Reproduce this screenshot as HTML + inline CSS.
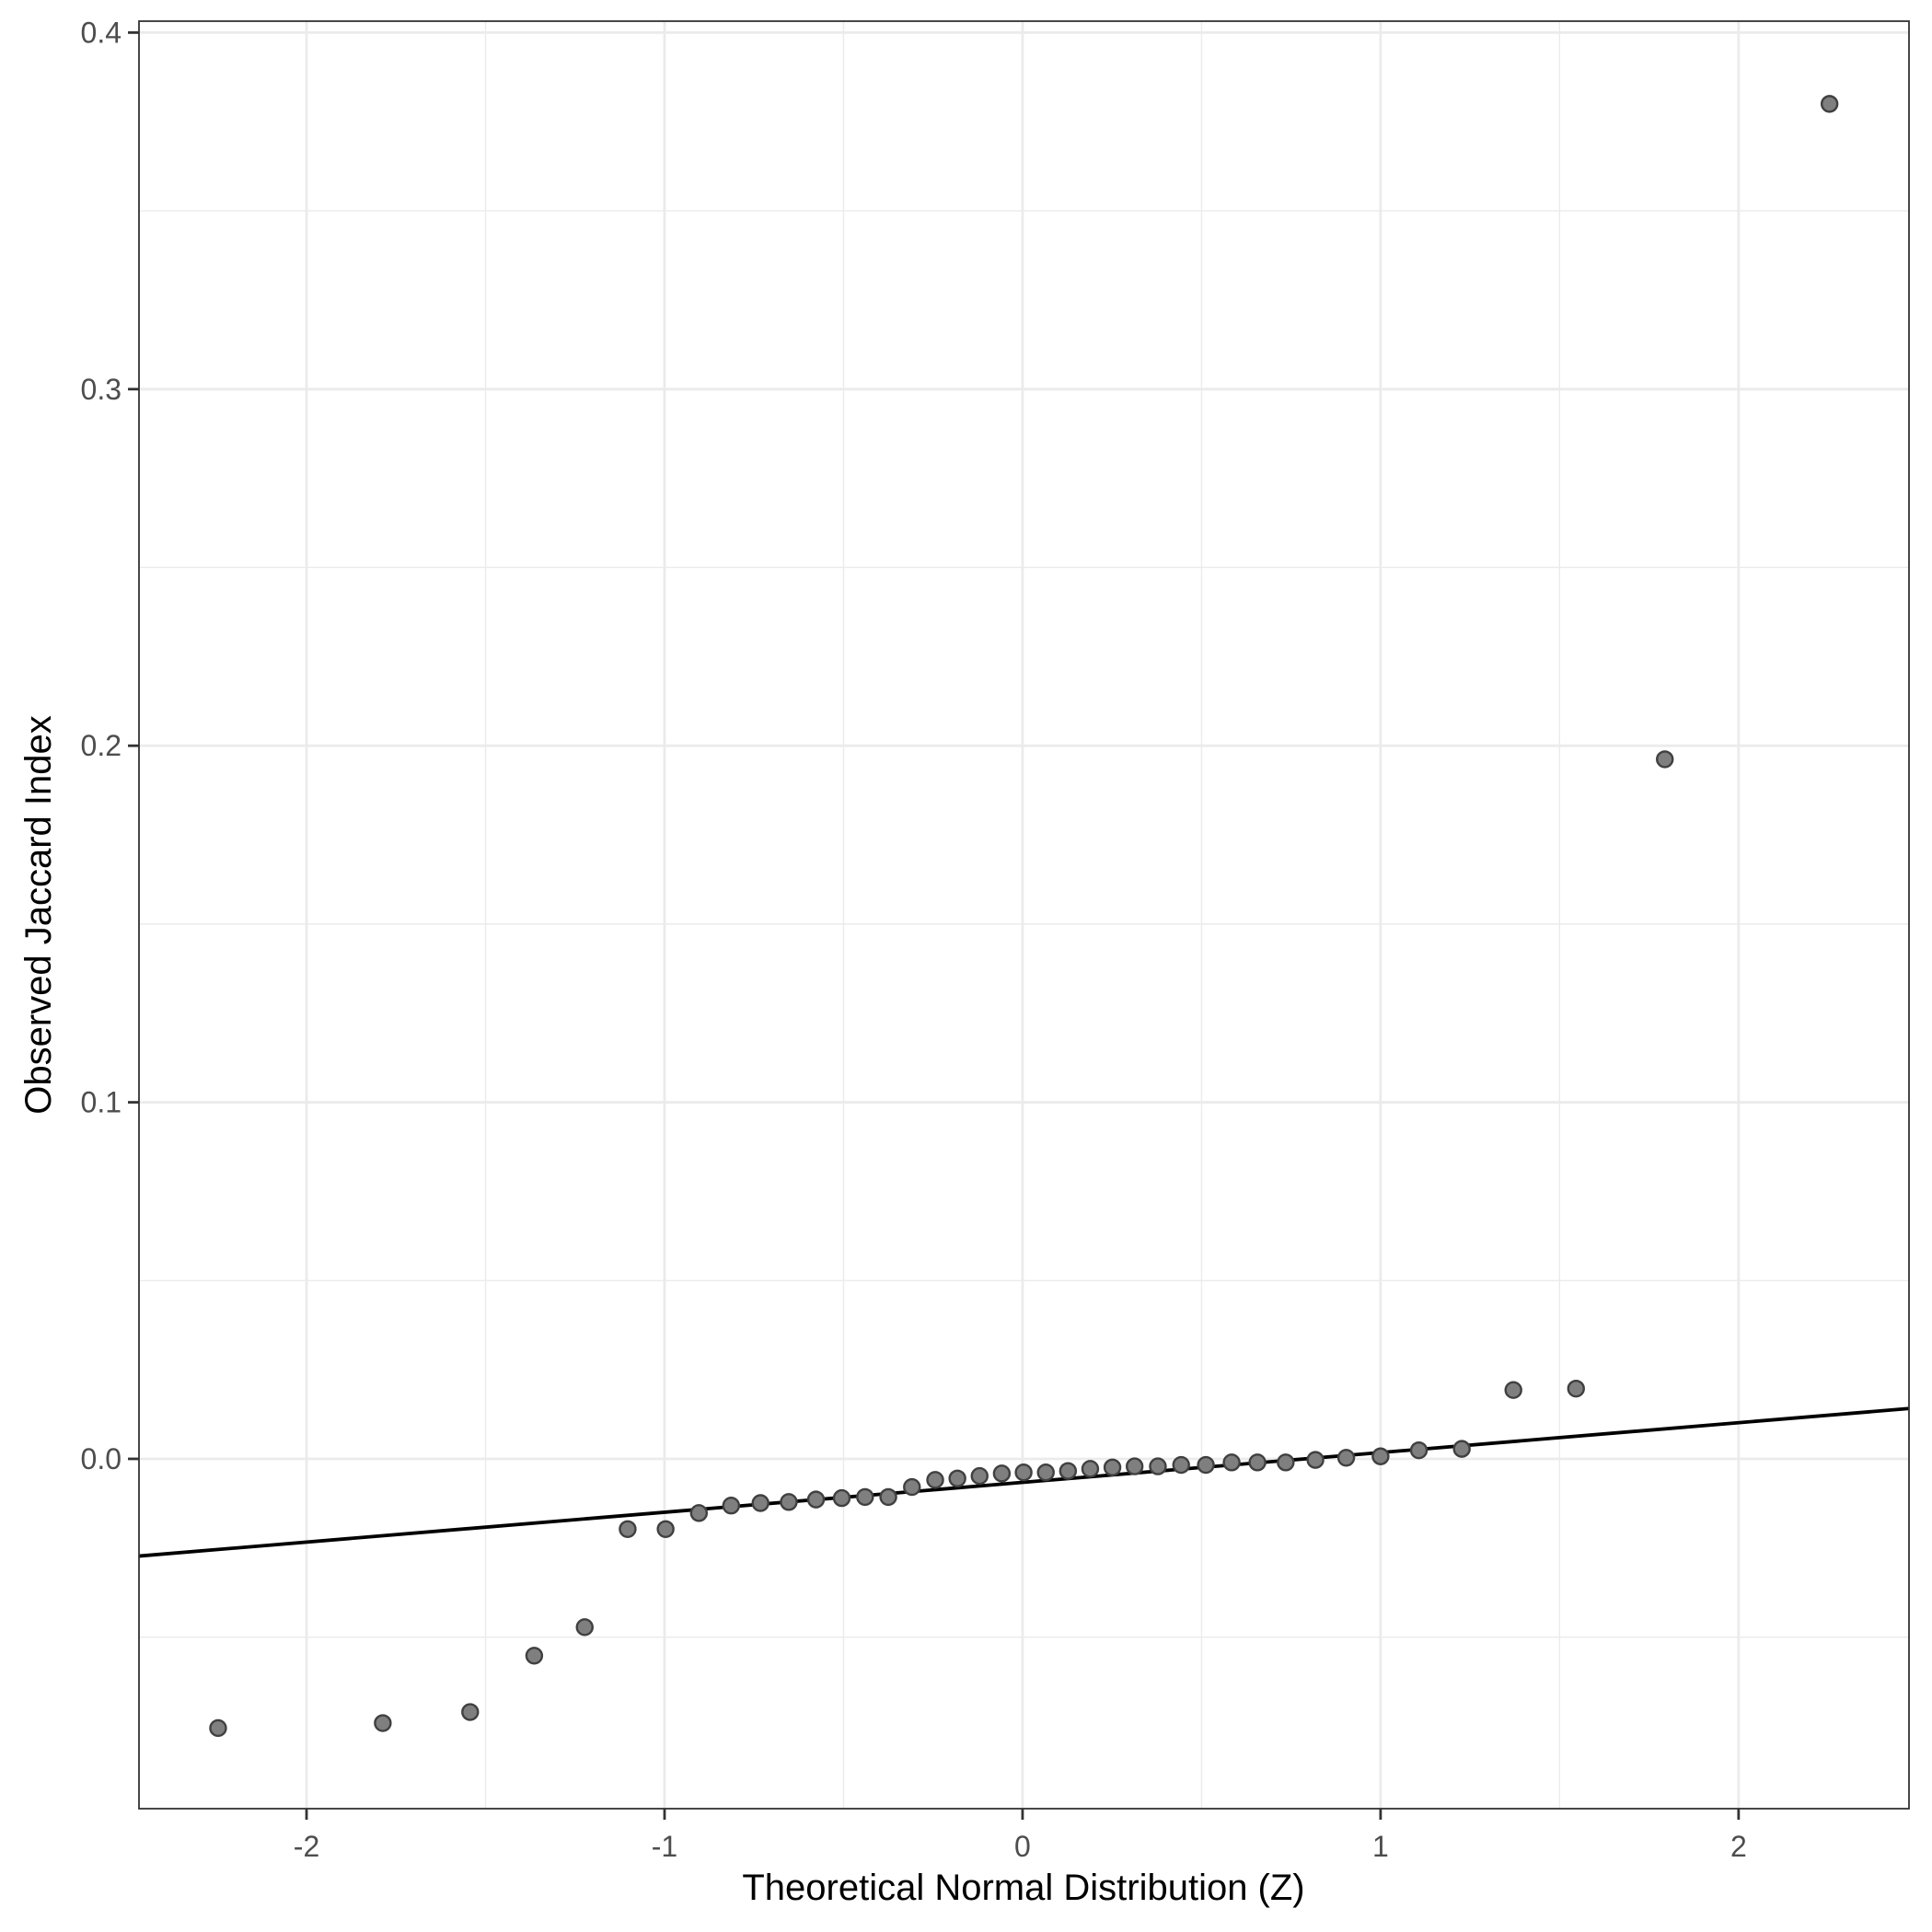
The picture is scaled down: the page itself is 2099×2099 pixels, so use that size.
<!DOCTYPE html>
<html><head><meta charset="utf-8"><style>
html,body{margin:0;padding:0;background:#fff;}
svg{display:block;font-family:"Liberation Sans",Arial,sans-serif;}
</style></head><body>
<svg id="chart" width="2099" height="2099" viewBox="0 0 2099 2099" xmlns="http://www.w3.org/2000/svg">
<rect x="0" y="0" width="2099" height="2099" fill="#fff"/>
<g id="grid"></g>
<g id="refline"></g>
<g id="points"></g>
<rect x="151" y="23" width="1923" height="1942" fill="none" stroke="#333" stroke-width="1.8"/>
<g id="axes"></g>
<text x="1112" y="2064" text-anchor="middle" font-size="40" fill="#000">Theoretical Normal Distribution (Z)</text>
<text x="0" y="0" transform="translate(55,994) rotate(-90)" text-anchor="middle" font-size="40" fill="#000">Observed Jaccard Index</text>
</svg>
<script>
const theoretical = [-2.247,-1.787,-1.543,-1.364,-1.223,-1.103,-0.997,-0.904,-0.814,-0.732,-0.653,-0.577,-0.505,-0.440,-0.375,-0.309,-0.244,-0.182,-0.120,-0.058,0.003,0.065,0.127,0.189,0.251,0.313,0.378,0.443,0.512,0.584,0.656,0.735,0.818,0.904,1.000,1.107,1.227,1.371,1.546,1.794,2.254];
const observed = [-0.0755,-0.0741,-0.0710,-0.0552,-0.0472,-0.0197,-0.0197,-0.0152,-0.0131,-0.0124,-0.0121,-0.0114,-0.0110,-0.0107,-0.0107,-0.0079,-0.0059,-0.0055,-0.0048,-0.0041,-0.0038,-0.0038,-0.0034,-0.0028,-0.0024,-0.0021,-0.0021,-0.0017,-0.0017,-0.0010,-0.0010,-0.0010,-0.0003,0.0003,0.0007,0.0024,0.0028,0.0193,0.0197,0.1962,0.380];
const xTicks = [-2,-1,0,1,2];
const xTickLabels = ["-2","-1","0","1","2"];
const yTicks = [0.0,0.1,0.2,0.3,0.4];
const yTickLabels = ["0.0","0.1","0.2","0.3","0.4"];
const lineIntercept = [-0.0066];
const lineSlope = [0.00837];

const NS="http://www.w3.org/2000/svg";
const L=151,R=2074,T=23,B=1965;
const xMin=-2.468,xMax=2.476,yMin=-0.0981,yMax=0.4032;
const sx=v=>L+(v-xMin)/(xMax-xMin)*(R-L);
const sy=v=>B-(v-yMin)/(yMax-yMin)*(B-T);
function mk(tag,attrs,parent){const e=document.createElementNS(NS,tag);for(const k in attrs)e.setAttribute(k,attrs[k]);parent.appendChild(e);return e;}
const grid=document.getElementById('grid'),axes=document.getElementById('axes');
for(let i=0;i<xTicks.length-1;i++){const v=(xTicks[i]+xTicks[i+1])/2;
 const g=mk('line',{x1:sx(v),x2:sx(v),y1:T,y2:B,stroke:'#ebebeb','stroke-width':1.4},grid);
 
 }
for(let i=0;i<yTicks.length;i++){const v=yTicks[i]-0.05;
 const g=mk('line',{x1:L,x2:R,y1:sy(v),y2:sy(v),stroke:'#ebebeb','stroke-width':1.4},grid);
 
 }
xTicks.forEach((v,i)=>{
 const g=mk('line',{x1:sx(v),x2:sx(v),y1:T,y2:B,stroke:'#ebebeb','stroke-width':2.8},grid);
 
 
 const t=mk('line',{x1:sx(v),x2:sx(v),y1:B,y2:B+12,stroke:'#333','stroke-width':2.8},axes);
 
 
 const tx=mk('text',{x:sx(v),y:B+52,'text-anchor':'middle','font-size':32,fill:'#4d4d4d'},axes);
 tx.textContent=xTickLabels[i];
 
 
});
yTicks.forEach((v,i)=>{
 const g=mk('line',{x1:L,x2:R,y1:sy(v),y2:sy(v),stroke:'#ebebeb','stroke-width':2.8},grid);
 
 
 const t=mk('line',{x1:L-12,x2:L,y1:sy(v),y2:sy(v),stroke:'#333','stroke-width':2.8},axes);
 
 
 const tx=mk('text',{x:L-19,y:sy(v)+11,'text-anchor':'end','font-size':32,fill:'#4d4d4d'},axes);
 tx.textContent=yTickLabels[i];
 
 
});
const rl=mk('line',{x1:sx(xMin),y1:sy(lineIntercept[0]+lineSlope[0]*xMin),x2:sx(xMax),y2:sy(lineIntercept[0]+lineSlope[0]*xMax),stroke:'#000','stroke-width':3.8},document.getElementById('refline'));


const pts=document.getElementById('points');
theoretical.forEach((z,i)=>{
 const c=mk('circle',{cx:sx(z),cy:sy(observed[i]),r:8.5,fill:'#7f7f7f',stroke:'#404040','stroke-width':2.4},pts);
 
 
});
</script>
</body></html>
